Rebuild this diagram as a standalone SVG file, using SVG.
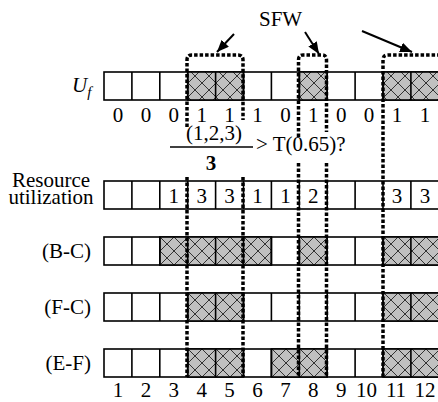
<svg xmlns="http://www.w3.org/2000/svg" width="438" height="402" viewBox="0 0 438 402">
<defs>
<pattern id="hatch" patternUnits="userSpaceOnUse" x="104" y="181" width="14" height="14">
<rect width="14" height="14" fill="#c0c0c0"/>
<path d="M0,0 L14,14 M14,0 L0,14" stroke="#333" stroke-width="1" fill="none"/>
</pattern>
<marker id="ah" viewBox="0 0 12 10" refX="12" refY="5" markerWidth="12" markerHeight="10" markerUnits="userSpaceOnUse" orient="auto">
<path d="M0,0 L12,5 L0,10 Z" fill="#000"/>
</marker>
</defs>
<style>
text{font-family:"Liberation Serif","Times New Roman",serif;font-size:21px;fill:#000}
.c{text-anchor:middle}
.lab{text-anchor:end}
.row{fill:#fff;stroke:#000;stroke-width:1.6}
.h{fill:url(#hatch);stroke:#000;stroke-width:1.6}
.div{stroke:#000;stroke-width:1.6}
.win{fill:none;stroke:#000;stroke-width:3.5;stroke-dasharray:3.5 2}
.arr{stroke:#000;stroke-width:2;fill:none}
</style>
<rect width="438" height="402" fill="#fff"/>

<g id="row-uf">
<text x="72" y="92" font-style="italic">U<tspan font-size="15" dy="5">f</tspan></text>
<rect class="row" x="104" y="72" width="340" height="28"/>
<rect class="h" x="187.7" y="72" width="55.8" height="28"/>
<rect class="h" x="299.3" y="72" width="27.9" height="28"/>
<rect class="h" x="383" y="72" width="60" height="28"/>
<path class="div" d="M131.9,72V100M159.8,72V100M187.7,72V100M215.6,72V100M243.5,72V100M271.4,72V100M299.3,72V100M327.2,72V100M355.1,72V100M383,72V100M410.9,72V100"/>
<g class="c">
<text x="118" y="122">0</text><text x="145.9" y="122">0</text><text x="173.8" y="122">0</text><text x="201.7" y="122">1</text><text x="229.6" y="122">1</text><text x="257.5" y="122">1</text><text x="285.4" y="122">0</text><text x="313.3" y="122">1</text><text x="341.2" y="122">0</text><text x="369.1" y="122">0</text><text x="397" y="122">1</text><text x="424.9" y="122">1</text>
</g>
</g>

<g id="formula">
<text class="c" x="214" y="140">(1,2,3)</text>
<line x1="170" y1="147" x2="253" y2="147" stroke="#000" stroke-width="1.6"/>
<text class="c" x="211" y="170" font-weight="bold">3</text>
<text x="256" y="151" font-size="21.5">&gt; T(0.65)?</text>
</g>

<g id="row-ru">
<text class="c" x="51" y="186.5">Resource</text>
<text class="c" x="51" y="204">utilization</text>
<rect class="row" x="104" y="181" width="340" height="28"/>
<path class="div" d="M131.9,181V209M159.8,181V209M187.7,181V209M215.6,181V209M243.5,181V209M271.4,181V209M299.3,181V209M327.2,181V209M355.1,181V209M383,181V209M410.9,181V209"/>
<g class="c">
<text x="173.8" y="202.5">1</text><text x="201.7" y="202.5">3</text><text x="229.6" y="202.5">3</text><text x="257.5" y="202.5">1</text><text x="285.4" y="202.5">1</text><text x="313.3" y="202.5">2</text><text x="397" y="202.5">3</text><text x="424.9" y="202.5">3</text>
</g>
</g>

<g id="row-bc">
<text class="lab" x="91" y="258">(B-C)</text>
<rect class="row" x="104" y="237" width="340" height="28"/>
<rect class="h" x="159.8" y="237" width="111.6" height="28"/>
<rect class="h" x="299.3" y="237" width="27.9" height="28"/>
<rect class="h" x="383" y="237" width="60" height="28"/>
<path class="div" d="M131.9,237V265M159.8,237V265M187.7,237V265M215.6,237V265M243.5,237V265M271.4,237V265M299.3,237V265M327.2,237V265M355.1,237V265M383,237V265M410.9,237V265"/>
</g>

<g id="row-fc">
<text class="lab" x="91" y="314">(F-C)</text>
<rect class="row" x="104" y="293" width="340" height="28"/>
<rect class="h" x="187.7" y="293" width="55.8" height="28"/>
<rect class="h" x="383" y="293" width="60" height="28"/>
<path class="div" d="M131.9,293V321M159.8,293V321M187.7,293V321M215.6,293V321M243.5,293V321M271.4,293V321M299.3,293V321M327.2,293V321M355.1,293V321M383,293V321M410.9,293V321"/>
</g>

<g id="row-ef">
<text class="lab" x="91" y="370">(E-F)</text>
<rect class="row" x="104" y="349" width="340" height="28"/>
<rect class="h" x="187.7" y="349" width="55.8" height="28"/>
<rect class="h" x="271.4" y="349" width="55.8" height="28"/>
<rect class="h" x="383" y="349" width="60" height="28"/>
<path class="div" d="M131.9,349V377M159.8,349V377M187.7,349V377M215.6,349V377M243.5,349V377M271.4,349V377M299.3,349V377M327.2,349V377M355.1,349V377M383,349V377M410.9,349V377"/>
<g class="c">
<text x="118" y="397">1</text><text x="145.9" y="397">2</text><text x="173.8" y="397">3</text><text x="201.7" y="397">4</text><text x="229.6" y="397">5</text><text x="257.5" y="397">6</text><text x="285.4" y="397">7</text><text x="313.3" y="397">8</text><text x="341.2" y="397">9</text><text x="366.5" y="397">10</text><text x="396" y="397">11</text><text x="424.9" y="397">12</text>
</g>
</g>

<g id="sfw-windows">
<path class="win" d="M187,127V60Q187,55 192,55H238Q243,55 243,60V120"/>
<path class="win" d="M187,177V377M243,177V377"/>
<path class="win" d="M298.5,137V60Q298.5,55 303,55H322Q326.5,55 326.5,60V132"/>
<path class="win" d="M298.5,163V377M326.5,163V377"/>
<path class="win" d="M383,377V60Q383,55 388,55H442"/>
</g>

<g id="sfw-label">
<text x="259" y="26" font-size="20">SFW</text>
</g>

<g id="connectors">
<line class="arr" x1="234" y1="34" x2="217" y2="52" marker-end="url(#ah)"/>
<line class="arr" x1="305" y1="32" x2="319" y2="54" marker-end="url(#ah)"/>
<line class="arr" x1="362" y1="31" x2="412" y2="52" marker-end="url(#ah)"/>
</g>
</svg>
